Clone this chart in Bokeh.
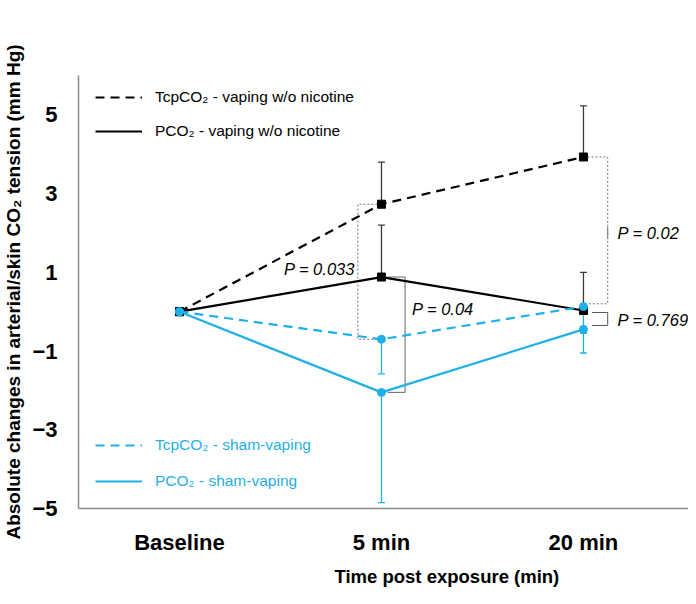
from bokeh.plotting import figure
from bokeh.models import Range1d, FixedTicker, Legend, LegendItem, Label, Title
from bokeh.embed import file_html
from bokeh.resources import INLINE

# ---- data ----
categories = ["Baseline", "5 min", "20 min"]
x_pos = [0, 1, 2]
tcp_vaping = [0.0, 2.73, 3.93]
tcp_vaping_err = [0.0, 1.07, 1.3]
pco2_vaping = [0.0, 0.88, 0.03]
pco2_vaping_err = [0.0, 1.32, 0.97]
tcp_sham = [0.0, -0.7, 0.13]
tcp_sham_err = [0.0, 0.88, 0.68]
pco2_sham = [0.0, -2.05, -0.45]
pco2_sham_err = [0.0, 2.8, 0.6]
y_ticks = [-5, -3, -1, 1, 3, 5]
p_values = ["P = 0.033", "P = 0.04", "P = 0.02", "P = 0.769"]

BLUE = "#1fb0e8"
BLACK = "#000000"
FONT = "Liberation Sans"

p = figure(width=688, height=592, output_backend="svg", toolbar_location=None,
           x_range=Range1d(-0.5, 2.52), y_range=Range1d(-5, 6),
           min_border_left=68, min_border_right=0, min_border_top=75, min_border_bottom=77)
p.outline_line_color = None
p.grid.visible = False
p.background_fill_color = "white"

# axes
for ax in (p.xaxis[0], p.yaxis[0]):
    ax.axis_line_color = "#8a8a8a"
    ax.axis_line_width = 1.5
    ax.major_tick_line_color = None
    ax.minor_tick_line_color = None
    ax.major_label_text_font = FONT
    ax.major_label_text_font_style = "bold"
    ax.major_label_text_font_size = "22px"
    ax.major_label_text_color = "black"

p.xaxis.ticker = FixedTicker(ticks=x_pos)
p.xaxis.major_label_overrides = {x: c for x, c in zip(x_pos, categories)}
p.xaxis.major_label_standoff = 15

p.yaxis.ticker = FixedTicker(ticks=y_ticks)
p.yaxis.major_label_standoff = 15
p.yaxis.axis_label = "Absolute changes in arterial/skin CO\u2082 tension (mm Hg)"
p.yaxis.axis_label_text_font = FONT
p.yaxis.axis_label_text_font_style = "bold"
p.yaxis.axis_label_text_font_size = "19px"
p.yaxis.axis_label_text_color = "black"
p.yaxis.axis_label_standoff = 5

p.add_layout(Title(text="Time post exposure (min)", align="left", offset=256,
                   text_font=FONT, text_font_style="bold", text_font_size="18.5px",
                   text_color="black", standoff=12), "below")

# ---- error bars ----
cap = 0.017
def errbars(vals, errs, sign, color):
    xs = [x for x, e in zip(x_pos, errs) if e > 0]
    y0 = [v for v, e in zip(vals, errs) if e > 0]
    y1 = [v + sign * e for v, e in zip(vals, errs) if e > 0]
    p.segment(x0=xs, y0=y0, x1=xs, y1=y1, line_color=color, line_width=1.3)
    p.segment(x0=[x - cap for x in xs], y0=y1, x1=[x + cap for x in xs], y1=y1,
              line_color=color, line_width=1.3)

errbars(tcp_vaping, tcp_vaping_err, 1, "#3a3a3a")
errbars(pco2_vaping, pco2_vaping_err, 1, "#3a3a3a")
errbars(tcp_sham, tcp_sham_err, -1, BLUE)
errbars(pco2_sham, pco2_sham_err, -1, BLUE)

# ---- brackets ----
# dotted bracket 5 min TcpCO2 (left side)
xb = x_pos[1] - 0.117
p.line([x_pos[1], xb, xb, x_pos[1]], [tcp_vaping[1], tcp_vaping[1], tcp_sham[1], tcp_sham[1]],
       line_color="#777777", line_width=1, line_dash="2 2")
# solid bracket 5 min PCO2 (right side)
xb = x_pos[1] + 0.117
p.line([x_pos[1] + 0.03, xb, xb, x_pos[1] + 0.03], [pco2_vaping[1], pco2_vaping[1], pco2_sham[1], pco2_sham[1]],
       line_color="#666666", line_width=1)
# dotted bracket 20 min TcpCO2 (right side)
xb = x_pos[2] + 0.12
p.line([x_pos[2] + 0.02, xb, xb, x_pos[2] + 0.02], [tcp_vaping[2], tcp_vaping[2], tcp_sham[2] + 0.07, tcp_sham[2] + 0.07],
       line_color="#777777", line_width=1, line_dash="2 2")
p.segment(x0=[xb], y0=[1.85], x1=[xb], y1=[2.15], line_color="#777777", line_width=1)
# solid bracket 20 min PCO2
p.line([x_pos[2] + 0.042, xb, xb, x_pos[2] + 0.042], [pco2_vaping[2] - 0.05, pco2_vaping[2] - 0.05, pco2_sham[2] + 0.1, pco2_sham[2] + 0.1],
       line_color="#555555", line_width=1)

# ---- series lines ----
r_tcp_v = p.line(x_pos, tcp_vaping, line_color=BLACK, line_width=2.2, line_dash="9 6")
r_pco2_v = p.line(x_pos, pco2_vaping, line_color=BLACK, line_width=2.2)
r_tcp_s = p.line(x_pos, tcp_sham, line_color=BLUE, line_width=2.2, line_dash="9 6")
r_pco2_s = p.line(x_pos, pco2_sham, line_color=BLUE, line_width=2.2)

p.scatter(x_pos, tcp_vaping, marker="square", size=8, color=BLACK)
p.scatter(x_pos, pco2_vaping, marker="square", size=8, color=BLACK)
p.scatter(x_pos, tcp_sham, marker="circle", size=8, color=BLUE)
p.scatter(x_pos, pco2_sham, marker="circle", size=8, color=BLUE)

# ---- p-value labels ----
ann = dict(text_font=FONT, text_font_style="italic", text_font_size="16.5px",
           text_color="black", text_baseline="middle")
p.add_layout(Label(x=0.869, y=1.08, text=p_values[0], text_align="right", **ann))
p.add_layout(Label(x=1.151, y=0.08, text=p_values[1], text_align="left", **ann))
p.add_layout(Label(x=2.169, y=2.0, text=p_values[2], text_align="left", **ann))
p.add_layout(Label(x=2.169, y=-0.2, text=p_values[3], text_align="left", **ann))

# ---- legends ----
common = dict(glyph_width=47, glyph_height=20, label_height=20, label_standoff=13,
              padding=0, margin=0, border_line_color=None, background_fill_alpha=0,
              label_text_font=FONT, label_text_font_size="15.5px")
leg1 = Legend(items=[LegendItem(label="TcpCO\u2082 - vaping w/o nicotine", renderers=[r_tcp_v]),
                     LegendItem(label="PCO\u2082 - vaping w/o nicotine", renderers=[r_pco2_v])],
              location=(17, 367), spacing=14, label_text_color="black", **common)
leg2 = Legend(items=[LegendItem(label="TcpCO\u2082 - sham-vaping", renderers=[r_tcp_s]),
                     LegendItem(label="PCO\u2082 - sham-vaping", renderers=[r_pco2_s])],
              location=(17, 17), spacing=16, label_text_color=BLUE, **common)
p.add_layout(leg1)
p.add_layout(leg2)

open("out.html", "w").write(file_html(p, INLINE))
